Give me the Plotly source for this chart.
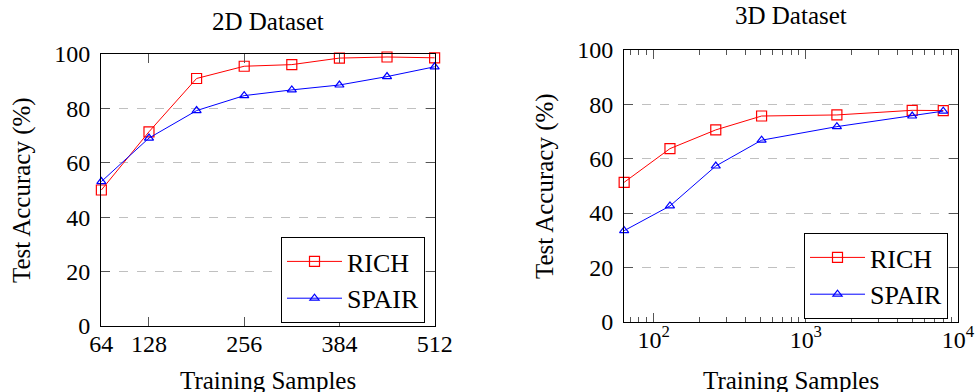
import math
import plotly.graph_objects as go

# ---- data ----
x2d = [64, 128, 192, 256, 320, 384, 448, 512]
rich2d = [50.0, 71.4, 91.0, 95.5, 96.1, 98.5, 98.9, 98.6]
spair2d = [53.1, 69.1, 79.2, 84.7, 86.8, 88.6, 91.7, 95.3]

x3d = [64, 128, 256, 512, 1600, 5000, 8000]
rich3d = [51.3, 63.7, 70.6, 75.7, 76.1, 77.8, 77.7]
spair3d = [33.5, 42.6, 57.3, 66.8, 71.8, 75.7, 77.5]

xticks2d = [64, 128, 256, 384, 512]
yticks = [0, 20, 40, 60, 80, 100]
xticks3d = [100, 1000, 10000]
xticktext3d = ["10<sup>2</sup>", "10<sup>3</sup>", "10<sup>4</sup>"]
minor3d = [m * 10 ** k for k in (1, 2, 3) for m in range(2, 10) if 64 < m * 10 ** k < 10000]

FONT = "Liberation Serif, Times New Roman, serif"
W, H = 977, 392
RED, BLUE = "#ff0000", "#0000ff"

fig = go.Figure()

def add_series(x, y, name, color, symbol, size, xa, ya, legend):
    fig.add_trace(go.Scatter(
        x=x, y=y, name=name, mode="lines+markers",
        line=dict(color=color, width=1),
        marker=dict(symbol=symbol, size=size, color=color, line=dict(color=color, width=1.2)),
        xaxis=xa, yaxis=ya, legend=legend, showlegend=True, cliponaxis=False,
    ))

add_series(x2d, rich2d, "RICH", RED, "square-open", 10, "x", "y", "legend")
add_series(x2d, spair2d, "SPAIR", BLUE, "triangle-up-open", 8, "x", "y", "legend")
add_series(x3d, rich3d, "RICH", RED, "square-open", 10, "x2", "y2", "legend2")
add_series(x3d, spair3d, "SPAIR", BLUE, "triangle-up-open", 8, "x2", "y2", "legend2")

def px_x(p):
    return p / W

def px_y(p):
    return 1 - p / H

axis_common = dict(
    showline=True, linecolor="black", linewidth=1, mirror="ticks",
    ticks="inside", ticklen=9, tickcolor="#555555", tickwidth=1,
    tickfont=dict(family=FONT, size=24, color="black"),
    zeroline=False, automargin=False,
)

fig.update_layout(
    width=W, height=H,
    margin=dict(l=0, r=0, t=0, b=0),
    paper_bgcolor="white", plot_bgcolor="white",
    font=dict(family=FONT, color="black"),
    xaxis=dict(domain=[px_x(101), px_x(435)], range=[63.5, 512.5],
               tickvals=xticks2d, showgrid=False, anchor="y",
               ticklabelstandoff=-4, **axis_common),
    yaxis=dict(domain=[px_y(326), px_y(54)], range=[0, 100], tickvals=yticks,
               showgrid=True, gridcolor="#c0c0c0", griddash="dash", gridwidth=1,
               anchor="x", ticklabelstandoff=5, **axis_common),
    xaxis2=dict(domain=[px_x(624), px_x(958)], type="log",
                range=[math.log10(64) - 0.001, 4],
                tickvals=xticks3d, ticktext=xticktext3d, showgrid=False, anchor="y2",
                minor=dict(tickvals=minor3d, ticks="inside", ticklen=5,
                           tickcolor="#555555", showgrid=False),
                ticklabelstandoff=-4, **axis_common),
    yaxis2=dict(domain=[px_y(321.7), px_y(50)], range=[0, 100], tickvals=yticks,
                showgrid=True, gridcolor="#c0c0c0", griddash="dash", gridwidth=1,
                anchor="x2", ticklabelstandoff=5, **axis_common),
    legend=dict(x=px_x(425), y=px_y(237), xanchor="right", yanchor="top",
                bgcolor="white", bordercolor="black", borderwidth=1,
                font=dict(family=FONT, size=26, color="black"), itemwidth=55,
                tracegroupgap=0),
    legend2=dict(x=px_x(948), y=px_y(233), xanchor="right", yanchor="top",
                 bgcolor="white", bordercolor="black", borderwidth=1,
                 font=dict(family=FONT, size=26, color="black"), itemwidth=55,
                 tracegroupgap=0),
)

ann_font = dict(family=FONT, size=25, color="black")
annotations = [
    dict(text="2D Dataset", x=px_x(268), y=px_y(21), xanchor="center", yanchor="middle"),
    dict(text="3D Dataset", x=px_x(791), y=px_y(15.5), xanchor="center", yanchor="middle"),
    dict(text="Training Samples", x=px_x(268), y=px_y(380), xanchor="center", yanchor="middle"),
    dict(text="Training Samples", x=px_x(791), y=px_y(380), xanchor="center", yanchor="middle"),
    dict(text="Test Accuracy (%)", x=px_x(22), y=px_y(190), xanchor="center", yanchor="middle", textangle=-90),
    dict(text="Test Accuracy (%)", x=px_x(545), y=px_y(186), xanchor="center", yanchor="middle", textangle=-90),
]
for a in annotations:
    fig.add_annotation(xref="paper", yref="paper", showarrow=False, font=ann_font, **a)

fig.write_html("out.html", config={"displayModeBar": False},
               post_script="document.body.style.margin='0px';document.body.style.overflow='hidden';")
